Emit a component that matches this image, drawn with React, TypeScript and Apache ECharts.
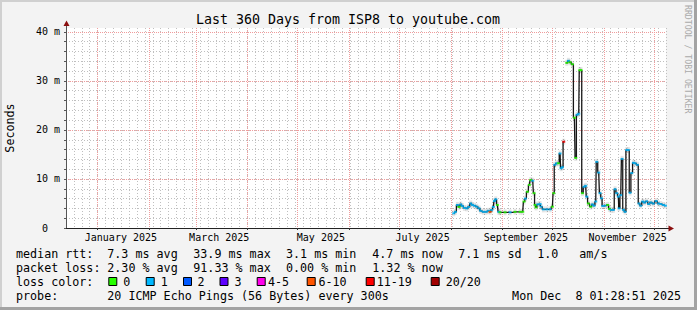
import React, { useEffect, useRef } from 'react';
import * as echarts from 'echarts';

// x values are days counted from 2025-01-01 00:00
const START_DAY = -18.94; // 2024-12-13 01:28:51
const END_DAY = 341.06; // 2025-12-08 01:28:51
const monthStarts = [0, 31, 59, 90, 120, 151, 181, 212, 243, 273, 304, 334];
const monthLabelDays = [14, 73, 134, 195, 257, 318];
const monthLabels = ['January 2025', 'March 2025', 'May 2025', 'July 2025', 'September 2025', 'November 2025'];
const yLabelValues = [0, 10, 20, 30, 40];
const yTickValues = [0, 2, 4, 6, 8, 10, 12, 14, 16, 18, 20, 22, 24, 26, 28, 30, 32, 34, 36, 38, 40];

const days = [
  213.7, 214.7, 215.9, 216.9, 217.9, 218.9, 220.1, 221.5, 222.7, 223.9,
  224.9, 226.1, 227.5, 228.9, 229.9, 231.5, 233.1, 234.5, 235.5, 236.5,
  237.5, 238.1, 238.9, 239.9, 240.7, 241.5, 244.5, 247.5, 250.5, 253.5,
  255.1, 255.9, 256.7, 257.9, 259.1, 259.9, 261.1, 261.9, 262.5, 263.1,
  264.1, 265.5, 266.1, 267.5, 269.5, 271.5, 272.9, 273.7, 274.3, 275.5,
  276.5, 277.5, 278.1, 278.9, 279.7, 280.5, 281.5, 282.5, 283.5, 284.9,
  286.1, 286.9, 287.7, 288.7, 289.3, 290.1, 290.9, 291.9, 292.9, 293.5,
  294.5, 295.9, 296.9, 297.9, 298.9, 299.5, 300.7, 301.5, 302.3, 303.1,
  304.5, 306.1, 307.1, 308.1, 309.5, 310.5, 311.5, 312.5, 312.9, 313.9,
  314.7, 315.5, 316.5, 317.5, 318.5, 319.5, 320.5, 321.5, 322.5, 323.9,
  324.9, 325.9, 327.1, 328.1, 329.5, 330.7, 331.9, 333.5, 335.1, 336.5,
  337.9, 339.5, 340.7,
];

// median rtt in ms
const medianMs: (number | null)[] = [
  3.0, 3.3, 4.7, 4.3, 4.8, 4.5, 4.1, 4.0, 4.3, 5.0,
  4.7, 4.55, 4.35, 4.0, 3.5, 3.3, 3.3, 3.5, 3.3, 3.7,
  4.3, 5.5, 5.85, 4.7, 3.3, 3.2, 3.2, 3.2, 3.3, 3.3,
  3.3, 5.4, 6.0, 7.4, 8.8, 9.8, 9.65, 7.1, 4.7, 4.2,
  4.8, 4.9, 4.35, 3.8, 3.8, 3.8, 4.35, 7.1, 12.9, 13.2,
  13.2, 15.2, 12.2, 12.4, 17.6, null, 33.7, 34.1, 33.8, 33.4,
  22.5, 14.3, 23.1, 23.3, 32.2, 32.2, 7.1, 8.4, 8.6, 6.4,
  5.0, 4.35, 4.8, 4.55, 5.4, 13.5, 11.3, 7.1, 6.05, 4.5,
  4.55, 4.7, 3.9, 3.7, 3.7, 7.9, 7.1, 6.4, 4.0, 6.7,
  14.1, 3.7, 3.3, 15.9, 15.9, 7.2, 11.2, 13.3, 13.2, 12.9,
  5.0, 4.55, 5.4, 5.2, 5.45, 4.9, 5.2, 5.0, 5.5, 5.0,
  4.9, 4.7, 4.55,
];

// index into lossColors
const lossBucket = [
  1, 1, 1, 0, 1, 1, 1, 1, 1, 1,
  1, 1, 1, 1, 1, 1, 1, 1, 5, 1,
  1, 1, 1, 0, 1, 0, 0, 1, 0, 0,
  0, 0, 1, 0, 0, 0, 1, 0, 0, 0,
  1, 1, 1, 1, 1, 1, 0, 0, 1, 1,
  0, 1, 1, 1, 6, 1, 0, 1, 0, 0,
  0, 0, 1, 1, 0, 0, 0, 1, 1, 1,
  0, 0, 1, 1, 1, 1, 1, 1, 1, 1,
  1, 0, 0, 1, 1, 1, 1, 1, 1, 1,
  1, 1, 1, 1, 1, 1, 1, 1, 1, 1,
  1, 1, 1, 1, 1, 1, 1, 1, 1, 1,
  1, 1, 1,
];

const lossColors = ['#26ff00', '#00b8ff', '#0059ff', '#5e00ff', '#ff00ea', '#ff5500', '#ff0000', '#a10000'];
const lossLabels = ['0', '1', '2', '3', '4-5', '6-10', '11-19', '20/20'];

const title = 'Last 360 Days from ISP8 to youtube.com';
const rttRow = ['median rtt:', '7.3 ms avg', '33.9 ms max', '3.1 ms min', '4.7 ms now', '7.1 ms sd', '1.0', 'am/s'];
const lossRow = ['packet loss:', '2.30 % avg', '91.33 % max', '0.00 % min', '1.32 % now'];
const probeRow = ['probe:', '20 ICMP Echo Pings (56 Bytes) every 300s'];
const stamp = 'Mon Dec  8 01:28:51 2025';

const MONO = '"DejaVu Sans Mono", monospace';
const MINOR_STEP = 4.735; // START_DAY = -4 * MINOR_STEP

function buildOption() {
  const minorStyle = { color: '#bfbfbf', type: [1, 2] as any, width: 1 };
  const majorStyle = { color: '#f09c9c', type: [1, 1] as any, width: 1 };
  const hiddenAxis = {
    axisLine: { show: false },
    axisTick: { show: false },
    axisLabel: { show: false },
  };

  const lineData = days.map((d, i) => [d, medianMs[i]]);
  const pts = days
    .map((d, i) => ({ d, v: medianMs[i], c: lossColors[lossBucket[i]] }))
    .filter((p) => p.v !== null);

  const colX = [16, 107.3, 193.3, 286, 372.3, 458.3, 537.3, 579.3];
  const rowY = [254, 268, 282, 296];
  const txt = (text: string, x: number, y: number, extra: any = {}) => ({
    type: 'text',
    x,
    y,
    silent: true,
    style: { text, fill: '#000', font: `11.7px ${MONO}`, textVerticalAlign: 'middle', ...extra },
  });

  const graphics: any[] = [];
  // frame
  graphics.push({ type: 'rect', shape: { x: 0, y: 0, width: 697, height: 2 }, style: { fill: '#d0d0d0' }, silent: true });
  graphics.push({ type: 'rect', shape: { x: 0, y: 0, width: 2, height: 310 }, style: { fill: '#d0d0d0' }, silent: true });
  graphics.push({ type: 'rect', shape: { x: 0, y: 307, width: 697, height: 3 }, style: { fill: '#a3a3a3' }, silent: true });
  graphics.push({ type: 'rect', shape: { x: 694, y: 0, width: 3, height: 310 }, style: { fill: '#a3a3a3' }, silent: true });
  // title
  graphics.push(txt(title, 348, 19, { font: `13.3px ${MONO}`, textAlign: 'center' }));
  // y title
  graphics.push({
    type: 'text', x: 10, y: 128, rotation: Math.PI / 2, silent: true,
    style: { text: 'Seconds', fill: '#000', font: `11.7px ${MONO}`, textAlign: 'center', textVerticalAlign: 'middle' },
  });
  // watermark
  graphics.push({
    type: 'text', x: 688, y: 5, rotation: -Math.PI / 2, silent: true,
    style: { text: 'RRDTOOL / TOBI OETIKER', fill: '#aaaaaa', font: `8.2px ${MONO}`, textAlign: 'left', textVerticalAlign: 'middle' },
  });
  // axis arrows
  graphics.push({ type: 'line', shape: { x1: 66.5, y1: 28, x2: 66.5, y2: 25 }, style: { stroke: '#555', lineWidth: 1 }, silent: true });
  graphics.push({ type: 'polygon', shape: { points: [[63.5, 26], [69.5, 26], [66.5, 20.5]] }, style: { fill: '#8b0f0f' }, silent: true });
  graphics.push({ type: 'line', shape: { x1: 666, y1: 228.5, x2: 669, y2: 228.5 }, style: { stroke: '#222', lineWidth: 1 }, silent: true });
  graphics.push({ type: 'polygon', shape: { points: [[668.5, 225.5], [668.5, 231.5], [674, 228.5]] }, style: { fill: '#8b0f0f' }, silent: true });
  // legend rows
  rttRow.forEach((t, i) => graphics.push(txt(t, colX[i], rowY[0])));
  lossRow.forEach((t, i) => graphics.push(txt(t, colX[i], rowY[1])));
  graphics.push(txt('loss color:', 16, rowY[2]));
  const boxX = [108.3, 145.7, 183, 219.5, 256.7, 306.7, 365.7, 430.7];
  const labelX = [123.3, 160.7, 197.5, 234.5, 268, 318.5, 376.7, 445.7];
  lossColors.forEach((c, i) => {
    graphics.push({
      type: 'rect', silent: true,
      shape: { x: boxX[i] + 0.5, y: rowY[2] - 4.5, width: 8, height: 8 },
      style: { fill: c, stroke: '#000', lineWidth: 1 },
    });
    graphics.push(txt(lossLabels[i], labelX[i], rowY[2]));
  });
  graphics.push(txt(probeRow[0], 16, rowY[3]));
  graphics.push(txt(probeRow[1], 107.3, rowY[3]));
  graphics.push(txt(stamp, 681, rowY[3], { textAlign: 'right' }));

  return {
    animation: false,
    backgroundColor: '#f3f3f3',
    grid: { left: 66, top: 28, width: 600, height: 200, show: true, backgroundColor: '#ffffff', borderWidth: 0 },
    xAxis: [
      {
        type: 'value',
        min: START_DAY,
        max: END_DAY,
        position: 'bottom',
        axisLine: { show: true, onZero: false, lineStyle: { color: '#222', width: 1 } },
        axisTick: { show: true, customValues: monthStarts, length: 2, lineStyle: { color: '#333' } },
        axisLabel: {
          customValues: monthLabelDays,
          formatter: (v: number) => monthLabels[monthLabelDays.indexOf(Math.round(v))] || '',
          fontFamily: MONO,
          fontSize: 10,
          color: '#000',
          margin: 4,
        },
        splitLine: { show: false },
      },
      {
        type: 'value',
        min: START_DAY,
        max: END_DAY,
        interval: MINOR_STEP,
        position: 'bottom',
        ...hiddenAxis,
        splitLine: { show: true, showMinLine: false, showMaxLine: false, lineStyle: minorStyle },
      },
      {
        type: 'value',
        min: START_DAY,
        max: END_DAY,
        position: 'bottom',
        axisLine: { show: false },
        axisTick: { show: false, customValues: monthStarts },
        axisLabel: { show: false, customValues: monthStarts },
        splitLine: { show: true, showMinLine: true, showMaxLine: true, lineStyle: majorStyle },
      },
    ],
    yAxis: [
      {
        type: 'value',
        min: 0,
        max: 40.8,
        interval: 2,
        axisLine: { show: true, onZero: false, lineStyle: { color: '#555', width: 1 } },
        axisTick: { show: true, customValues: yTickValues, length: 2, lineStyle: { color: '#555' } },
        axisLabel: {
          customValues: yLabelValues,
          formatter: (v: number) => (v === 0 ? '{z|0}' : `${v} m`),
          fontFamily: MONO,
          fontSize: 10,
          color: '#000',
          margin: 6,
          rich: { z: { padding: [0, 12, 0, 0], fontFamily: MONO, fontSize: 10, color: '#000' } },
        },
        splitLine: { show: true, showMinLine: false, showMaxLine: false, lineStyle: minorStyle },
      },
      {
        type: 'value',
        min: 0,
        max: 40.8,
        interval: 10,
        position: 'left',
        ...hiddenAxis,
        splitLine: { show: true, showMinLine: false, showMaxLine: false, lineStyle: majorStyle },
      },
    ],
    graphic: graphics,
    series: [
      {
        type: 'scatter',
        z: 10,
        silent: true,
        symbol: 'rect',
        symbolSize: [3, 6],
        itemStyle: { color: 'rgba(0,0,0,0.13)' },
        data: pts.map((p) => [p.d, p.v]),
      },
      {
        type: 'line',
        z: 11,
        silent: true,
        step: 'middle',
        showSymbol: false,
        connectNulls: false,
        lineStyle: { color: '#161616', width: 1.3 },
        data: lineData,
      },
      {
        type: 'scatter',
        z: 12,
        silent: true,
        symbol: 'rect',
        symbolSize: [3, 2],
        data: pts.map((p) => ({ value: [p.d, p.v], itemStyle: { color: p.c } })),
      },
    ],
  };
}

export default function App() {
  const ref = useRef<HTMLDivElement>(null);
  useEffect(() => {
    if (!ref.current) return;
    const chart = echarts.init(ref.current, null, { renderer: 'svg' });
    chart.setOption(buildOption() as any);
    return () => chart.dispose();
  }, []);
  return <div ref={ref} style={{ position: 'fixed', left: 0, top: 0, width: 697, height: 310 }} />;
}
